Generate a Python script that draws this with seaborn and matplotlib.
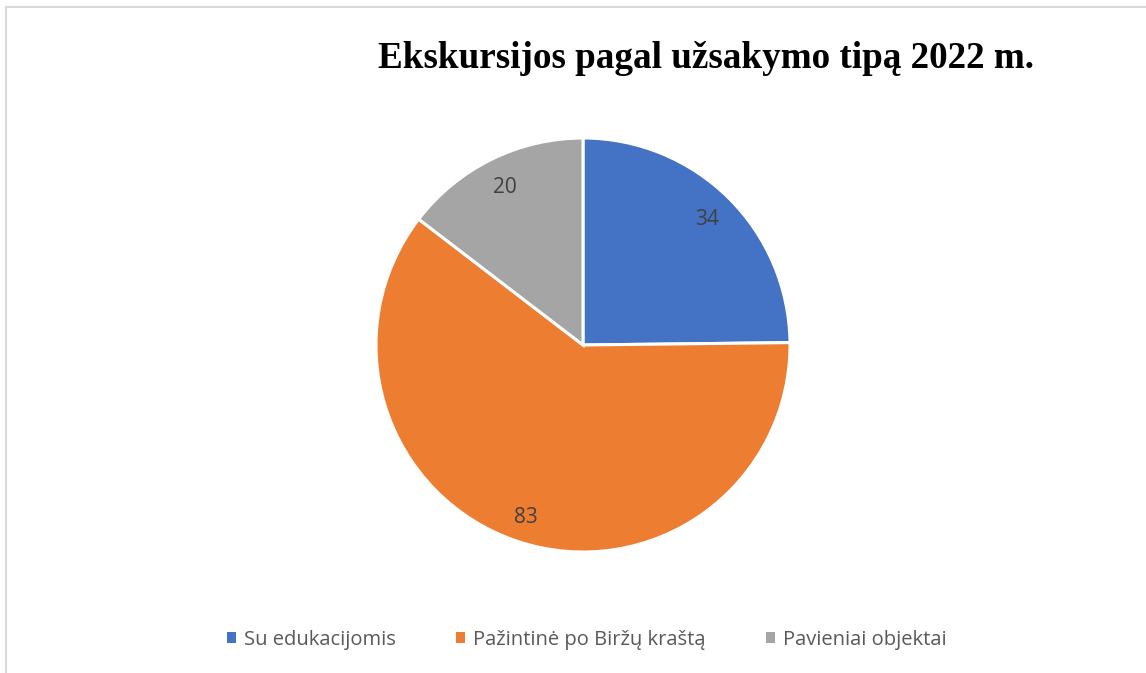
import numpy as np
import matplotlib
matplotlib.use("Agg")
import matplotlib.pyplot as plt
import matplotlib.patches as mpatches
import seaborn as sns

categories = ["Su edukacijomis", "Pažintinė po Biržų kraštą", "Pavieniai objektai"]
values = [34, 83, 20]
title = "Ekskursijos pagal užsakymo tipą 2022 m."

sns.set_theme(style="white")
plt.rcParams['font.family'] = ['Open Sans', 'DejaVu Sans']
palette = sns.color_palette(["#4472C4", "#ED7D31", "#A5A5A5"])

W, H = 1146, 673
fig = plt.figure(figsize=(W / 100, H / 100), dpi=100)
fig.patch.set_facecolor("white")

# chart border (light gray frame, cut at right/bottom)
fig.add_artist(mpatches.Rectangle((6 / W, -0.05), 1.2, 1 - 7 / H + 0.05,
                                  transform=fig.transFigure, fill=False,
                                  edgecolor="#d9d9d9", linewidth=1.5))

cx, cy, r = 583, 345, 207
ax = fig.add_axes([(cx - r) / W, (H - cy - r) / H, 2 * r / W, 2 * r / H])
wedges, _ = ax.pie(values, colors=palette, startangle=90, counterclock=False,
                   radius=1.0, wedgeprops=dict(edgecolor="white", linewidth=2.2))
ax.set_xlim(-1, 1)
ax.set_ylim(-1, 1)
ax.set_aspect("equal")
ax.axis("off")

label_r = [0.85, 0.88, 0.85]
for w, v, lr in zip(wedges, values, label_r):
    ang = np.deg2rad((w.theta1 + w.theta2) / 2)
    ax.text(lr * np.cos(ang), lr * np.sin(ang), str(v), ha="center", va="center",
            fontsize=15, color="#404040")

fig.text(706 / W, 1 - 58 / H, title, ha="center", va="center",
         fontsize=26.7, fontweight="bold", family=["Liberation Serif", "DejaVu Serif"],
         color="black")

handles = [mpatches.Patch(facecolor=c, edgecolor="none") for c in palette]
fig.legend(handles, categories, loc="center", bbox_to_anchor=(587 / W, 1 - 640 / H),
           ncol=3, frameon=False, fontsize=14.5, handlelength=0.45, handleheight=0.45,
           handletextpad=0.4, columnspacing=3.0, labelcolor="#595959")

fig.savefig("out.png", dpi=100, facecolor="white")
